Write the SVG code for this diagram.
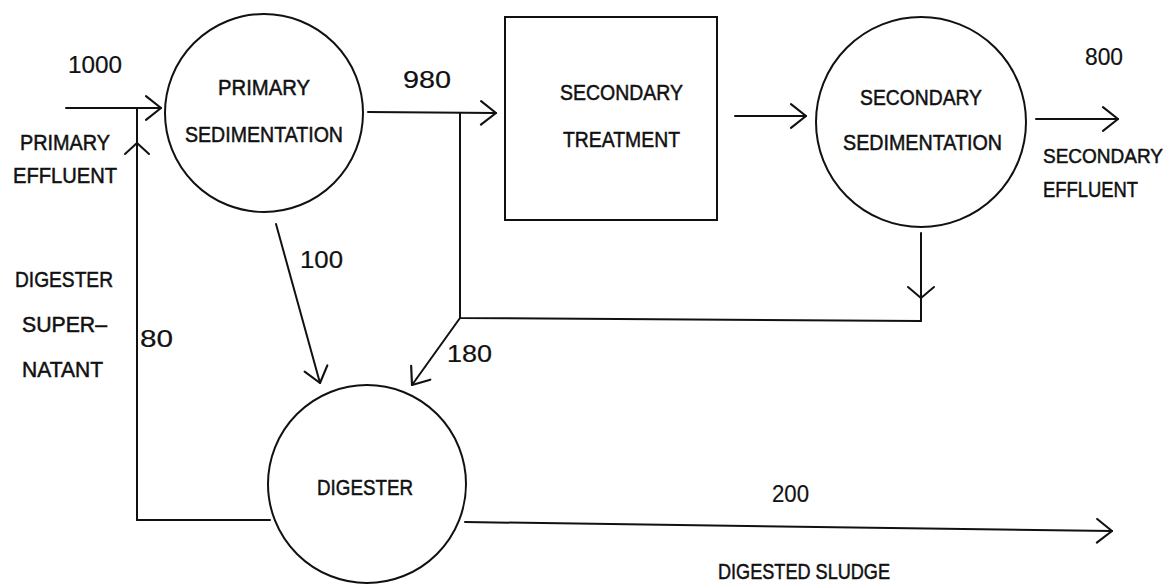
<svg xmlns="http://www.w3.org/2000/svg" width="1176" height="584" viewBox="0 0 1176 584">
<style>
.shape{fill:none;stroke:#111;stroke-width:2}
.conn{fill:none;stroke:#111;stroke-width:2;stroke-linecap:round;stroke-linejoin:round}
text{font-family:"Liberation Sans",Arial,sans-serif;font-size:22px;fill:#111;stroke:#111;stroke-width:0.5}
.num{font-size:23px;stroke-width:0.2}
.edge{font-size:20.5px}
</style>
<defs>
<marker id="arr" markerUnits="userSpaceOnUse" markerWidth="30" markerHeight="30" viewBox="-16 -14 20 28" refX="0" refY="0" orient="auto">
<path d="M-14,-11 L0,0 L-14,11" fill="none" stroke="#111" stroke-width="2" stroke-linecap="round" stroke-linejoin="round"/>
</marker>
</defs>
<rect width="1176" height="584" fill="#fff"/>

<g id="connectors">
<path class="conn" d="M66,108 L161,108" marker-end="url(#arr)"/>
<path class="conn" d="M137,520 L137,108"/>
<path class="conn" d="M125,154 L137,143 L149,154"/>
<path class="conn" d="M368,112 L496,113" marker-end="url(#arr)"/>
<path class="conn" d="M460,113 L460,318 L921,321"/>
<path class="conn" d="M460,318 L412,385" marker-end="url(#arr)"/>
<path class="conn" d="M921,233 L921,321"/>
<path class="conn" d="M908,287 L921,298 L934,287"/>
<path class="conn" d="M735,116 L806,116" marker-end="url(#arr)"/>
<path class="conn" d="M1036,119 L1118,119" marker-end="url(#arr)"/>
<path class="conn" d="M276,224 L320,383" marker-end="url(#arr)"/>
<path class="conn" d="M137,520 L270,520"/>
<path class="conn" d="M465,522 L1112,531" marker-end="url(#arr)"/>
</g>

<g id="primary-sedimentation">
<circle class="shape" cx="264" cy="113" r="99"/>
<text x="218" y="95" textLength="92" lengthAdjust="spacingAndGlyphs">PRIMARY</text>
<text x="185" y="142" textLength="158" lengthAdjust="spacingAndGlyphs">SEDIMENTATION</text>
</g>

<g id="secondary-treatment">
<rect class="shape" x="505" y="17" width="212" height="203"/>
<text x="560" y="100" textLength="123" lengthAdjust="spacingAndGlyphs">SECONDARY</text>
<text x="563" y="147" textLength="117" lengthAdjust="spacingAndGlyphs">TREATMENT</text>
</g>

<g id="secondary-sedimentation">
<circle class="shape" cx="921" cy="122" r="105"/>
<text x="860" y="105" textLength="122" lengthAdjust="spacingAndGlyphs">SECONDARY</text>
<text x="843" y="150" textLength="159" lengthAdjust="spacingAndGlyphs">SEDIMENTATION</text>
</g>

<g id="digester">
<circle class="shape" cx="367" cy="484" r="99"/>
<text x="317" y="495" textLength="96" lengthAdjust="spacingAndGlyphs">DIGESTER</text>
</g>

<g id="labels">
<text class="num" x="68" y="73" textLength="54" lengthAdjust="spacingAndGlyphs">1000</text>
<text x="20" y="150" textLength="90" lengthAdjust="spacingAndGlyphs">PRIMARY</text>
<text x="13" y="183" textLength="104" lengthAdjust="spacingAndGlyphs">EFFLUENT</text>
<text class="num" x="403" y="88" textLength="48" lengthAdjust="spacingAndGlyphs">980</text>
<text class="num" x="1085" y="65" textLength="38" lengthAdjust="spacingAndGlyphs">800</text>
<text class="edge" x="1043" y="163" textLength="120" lengthAdjust="spacingAndGlyphs">SECONDARY</text>
<text x="1043" y="197" textLength="95" lengthAdjust="spacingAndGlyphs">EFFLUENT</text>
<text class="num" x="300" y="268" textLength="43" lengthAdjust="spacingAndGlyphs">100</text>
<text x="15" y="287" textLength="98" lengthAdjust="spacingAndGlyphs">DIGESTER</text>
<text x="22" y="332" textLength="85" lengthAdjust="spacingAndGlyphs">SUPER–</text>
<text x="22" y="377" textLength="81" lengthAdjust="spacingAndGlyphs">NATANT</text>
<text class="num" x="140" y="347" textLength="33" lengthAdjust="spacingAndGlyphs">80</text>
<text class="num" x="447" y="362" textLength="45" lengthAdjust="spacingAndGlyphs">180</text>
<text class="num" x="772" y="502" textLength="37" lengthAdjust="spacingAndGlyphs">200</text>
<text x="718" y="579" textLength="172" lengthAdjust="spacingAndGlyphs">DIGESTED SLUDGE</text>
</g>
</svg>
